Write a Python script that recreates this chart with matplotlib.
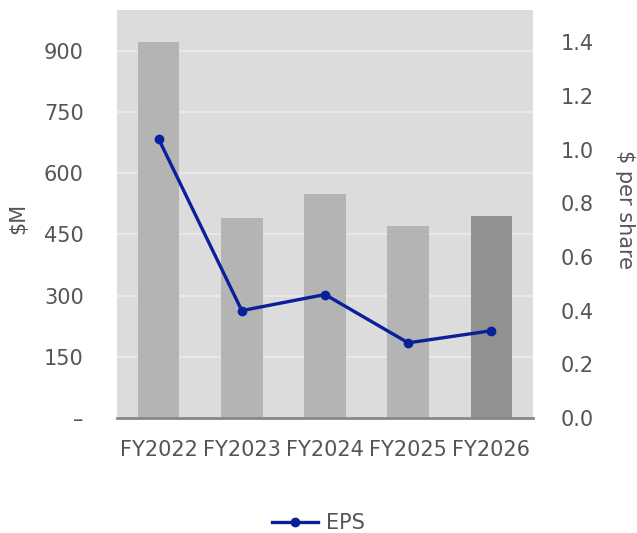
import matplotlib.pyplot as plt
from matplotlib.ticker import FuncFormatter

years = ["FY2022", "FY2023", "FY2024", "FY2025", "FY2026"]
revenue = [921, 489, 548, 470, 494]
eps = [1.04, 0.40, 0.46, 0.28, 0.325]
bar_colors = ["#b4b4b4", "#b4b4b4", "#b4b4b4", "#b4b4b4", "#919191"]

text_color = "#555555"
line_color = "#0a1f9a"

plt.rcParams["font.family"] = ["DejaVu Sans"]

fig = plt.figure(figsize=(6.37, 5.33), dpi=100)
ax = fig.add_axes([0.1837, 0.2158, 0.653, 0.7654])
ax.set_facecolor("#dcdcdc")

x = range(len(years))
ax.bar(x, revenue, width=0.5, color=bar_colors, zorder=2)
ax.set_xlim(-0.5, len(years) - 0.5)
ax.set_ylim(0, 1000)
ax.set_yticks(range(0, 901, 150))
ax.yaxis.set_major_formatter(FuncFormatter(lambda v, p: "–" if v == 0 else f"{v:.0f}"))
ax.grid(axis="y", color="#ebebeb", linewidth=1.2, zorder=1)
ax.set_axisbelow(True)
ax.set_xticks(list(x))
ax.set_xticklabels(years)
ax.tick_params(axis="both", length=0, labelsize=15, colors=text_color)
ax.tick_params(axis="y", pad=24)
ax.tick_params(axis="x", pad=16)
for side in ["top", "left", "right"]:
    ax.spines[side].set_visible(False)
ax.spines["bottom"].set_color("#888888")
ax.spines["bottom"].set_linewidth(2)
ax.set_ylabel("$M", fontsize=15, color=text_color, va="center")
ax.yaxis.set_label_coords(-0.238, 0.49)

ax2 = ax.twinx()
ax2.plot(x, eps, color=line_color, linewidth=2.4, marker="o", markersize=6,
         label="EPS", zorder=3)
ax2.set_ylim(0, 1.52)
ax2.set_yticks([0.0, 0.2, 0.4, 0.6, 0.8, 1.0, 1.2, 1.4])
ax2.yaxis.set_major_formatter(FuncFormatter(lambda v, p: f"{v:.1f}"))
ax2.tick_params(axis="y", length=0, labelsize=15, colors=text_color, pad=20)
for side in ["top", "left", "right", "bottom"]:
    ax2.spines[side].set_visible(False)
ax2.set_ylabel("$ per share", fontsize=15, color=text_color, rotation=270,
               va="center")
ax2.yaxis.set_label_coords(1.221, 0.51)

leg = fig.legend(loc="center", bbox_to_anchor=(0.5, 0.018), frameon=False,
                 fontsize=15, handlelength=2.2, handletextpad=0.4)
for t in leg.get_texts():
    t.set_color(text_color)

fig.savefig("out.png", dpi=100)
